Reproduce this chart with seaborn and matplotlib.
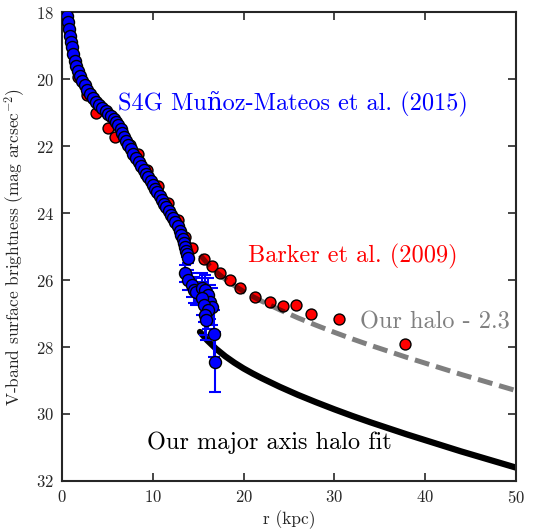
import numpy as np
import pandas as pd
import matplotlib
matplotlib.use("Agg")
import matplotlib.pyplot as plt
import seaborn as sns

# --- S4G profile (Muñoz-Mateos et al. 2015) ---
s4g_r = [0.55, 0.62, 0.72, 0.83, 0.95, 1.07, 1.22, 1.4, 1.58, 1.78, 2.0, 2.25, 2.5,
         2.8, 3.1, 3.4, 3.75, 4.1, 4.45, 4.8, 5.1, 5.4, 5.7, 5.95, 6.2, 6.45, 6.65,
         6.85, 7.05, 7.3, 7.55, 7.85, 8.15, 8.45, 8.75, 9.0, 9.25, 9.5, 9.75, 10.0,
         10.25, 10.5, 10.75, 11.0, 11.25, 11.5, 11.75, 12.0, 12.25, 12.5, 12.75,
         12.95, 13.15, 13.3, 13.45, 13.6, 13.7, 13.8, 13.9, 13.5, 13.9, 14.3,
         14.5, 14.8, 15.4, 15.7, 16.1, 16.3, 16.5, 15.4, 15.6, 16.1, 15.7, 15.9,
         16.7, 16.85]
s4g_mu = [18.1, 18.3, 18.5, 18.7, 18.9, 19.05, 19.25, 19.45, 19.6, 19.75, 19.9, 20.05,
          20.18, 20.32, 20.45, 20.57, 20.68, 20.78, 20.87, 20.95, 21.03, 21.1, 21.18,
          21.27, 21.36, 21.48, 21.6, 21.73, 21.86, 21.98, 22.1, 22.22, 22.35, 22.47,
          22.6, 22.72, 22.82, 22.93, 23.05, 23.17, 23.28, 23.38, 23.5, 23.6, 23.72,
          23.82, 23.93, 24.05, 24.16, 24.28, 24.4, 24.52, 24.65, 24.78, 24.9, 25.02,
          25.12, 25.22, 25.35, 25.8, 26.0, 26.15, 26.3, 26.35, 26.25, 26.3, 26.45,
          26.65, 26.8, 26.55, 26.75, 26.9, 27.05, 27.2, 27.6, 28.44]
s4g_err = [0.02] * 55 + [0.05, 0.08, 0.1, 0.15, 0.25, 0.3, 0.35, 0.4, 0.4, 0.45,
                         0.45, 0.5, 0.5, 0.55, 0.5, 0.5, 0.55, 0.6, 0.6, 0.7, 0.9]

# --- Barker et al. (2009) profile ---
barker_r = [1.8, 2.7, 3.7, 5.1, 5.8, 7.5, 8.4, 9.4, 10.6, 11.7, 12.8, 13.5, 14.3,
            15.6, 16.5, 17.4, 18.5, 19.6, 21.3, 22.9, 24.4, 25.8, 27.4, 30.5, 37.8]
barker_mu = [19.93, 20.48, 21.0, 21.47, 21.72, 21.97, 22.24, 22.7, 23.18, 23.7, 24.2,
             24.7, 25.05, 25.36, 25.57, 25.78, 26.0, 26.25, 26.5, 26.67, 26.77, 26.75,
             27.02, 27.17, 27.9]

# --- major axis halo fit ---
halo_r = [15.2, 16, 17, 18, 19, 20, 21, 22, 24, 26, 28, 30, 32, 34, 36, 38, 40, 42,
          44, 46, 48, 50]
halo_mu = [27.55, 27.80, 28.06, 28.28, 28.47, 28.64, 28.79, 28.93, 29.19, 29.43, 29.65,
           29.86, 30.06, 30.25, 30.43, 30.61, 30.78, 30.95, 31.12, 31.28, 31.44, 31.6]
halo_offset = 2.3

sns.set_style("ticks")
plt.rcParams.update({
    "font.family": ["cmr10", "DejaVu Serif"],
    "mathtext.fontset": "cm",
    "axes.formatter.use_mathtext": True,
    "axes.linewidth": 1.5,
    "xtick.direction": "in",
    "ytick.direction": "in",
    "xtick.top": True,
    "ytick.right": True,
    "xtick.major.size": 6,
    "ytick.major.size": 6,
    "xtick.major.width": 1.2,
    "ytick.major.width": 1.2,
    "xtick.minor.visible": False,
    "ytick.minor.visible": False,
})

fig = plt.figure(figsize=(5.35, 5.32), dpi=100)
ax = fig.add_axes([0.116, 0.096, 0.848, 0.881])

halo = pd.DataFrame({"r": halo_r, "mu": halo_mu})
halo["shifted"] = halo["mu"] - halo_offset
barker = pd.DataFrame({"r": barker_r, "mu": barker_mu})
s4g = pd.DataFrame({"r": s4g_r, "mu": s4g_mu, "err": s4g_err})

sns.lineplot(data=halo, x="r", y="mu", color="black", linewidth=4.5,
             sort=True, ax=ax, zorder=1)
sns.scatterplot(data=barker, x="r", y="mu", color="#ff0000", edgecolor="black",
                linewidth=1.0, s=62, ax=ax, zorder=2)
ax.errorbar(s4g["r"], s4g["mu"], yerr=s4g["err"], fmt="none", ecolor="#0000ff",
            elinewidth=1.5, capsize=4.5, capthick=1.5, zorder=3)
sns.scatterplot(data=s4g, x="r", y="mu", color="#0000ff", edgecolor="black",
                linewidth=1.0, s=75, ax=ax, zorder=4)
sns.lineplot(data=halo, x="r", y="shifted", color="black", alpha=0.5,
             linewidth=3.6, dashes=False, ax=ax, zorder=5)
ax.lines[-1].set_dashes((3.0, 1.4))

ax.set_xlim(0, 50)
ax.set_ylim(32, 18)
ax.set_xticks([0, 10, 20, 30, 40, 50])
ax.set_yticks([18, 20, 22, 24, 26, 28, 30, 32])
ax.tick_params(labelsize=12, pad=6)
ax.set_xlabel("r (kpc)", fontsize=12.5, labelpad=3)
ax.set_ylabel(r"V-band surface brightness (mag arcsec$^{-2}$)", fontsize=12.5, labelpad=6)

ax.text(0.123, 0.804, "S4G Muñoz-Mateos et al. (2015)", transform=ax.transAxes,
        color="#0000ff", fontsize=17.5, va="center", ha="left")
ax.text(0.41, 0.478, "Barker et al. (2009)", transform=ax.transAxes,
        color="#ff0000", fontsize=17.5, va="center", ha="left")
ax.text(0.657, 0.339, "Our halo - 2.3", transform=ax.transAxes,
        color="#808080", fontsize=17.5, va="center", ha="left")
ax.text(0.187, 0.081, "Our major axis halo fit", transform=ax.transAxes,
        color="black", fontsize=17.5, va="center", ha="left")

fig.savefig("out.png", dpi=100)
